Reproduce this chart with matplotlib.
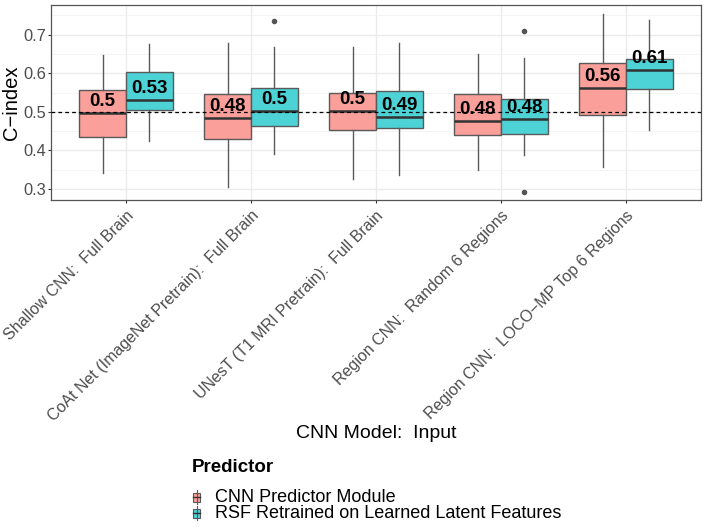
import numpy as np
import matplotlib.pyplot as plt
from matplotlib.patches import Rectangle
from matplotlib.lines import Line2D
from matplotlib.colors import to_rgb
from matplotlib.ticker import MultipleLocator

plt.rcParams['font.family'] = ['Liberation Sans', 'DejaVu Sans']

models = ["Shallow CNN:  Full Brain",
          "CoAt Net (ImageNet Pretrain):  Full Brain",
          "UNesT (T1 MRI Pretrain):  Full Brain",
          "Region CNN:  Random 6 Regions",
          "Region CNN:  LOCO\u2212MP Top 6 Regions"]
predictors = ["CNN Predictor Module", "RSF Retrained on Learned Latent Features"]
colors = ['#F8766D', '#00BFC4']

# box statistics, one list per predictor
cnn_whislo = [0.342, 0.305, 0.326, 0.349, 0.356]
cnn_q1 = [0.435, 0.430, 0.454, 0.439, 0.491]
cnn_med = [0.497, 0.484, 0.503, 0.477, 0.562]
cnn_q3 = [0.556, 0.547, 0.549, 0.547, 0.626]
cnn_whishi = [0.647, 0.678, 0.668, 0.649, 0.755]
cnn_fliers = [[], [], [], [], []]

rsf_whislo = [0.425, 0.390, 0.336, 0.389, 0.454]
rsf_q1 = [0.504, 0.462, 0.458, 0.443, 0.559]
rsf_med = [0.531, 0.503, 0.486, 0.482, 0.609]
rsf_q3 = [0.602, 0.562, 0.554, 0.533, 0.637]
rsf_whishi = [0.675, 0.669, 0.679, 0.639, 0.739]
rsf_fliers = [[], [0.736], [], [0.710, 0.293], []]

series = [
    (cnn_whislo, cnn_q1, cnn_med, cnn_q3, cnn_whishi, cnn_fliers),
    (rsf_whislo, rsf_q1, rsf_med, rsf_q3, rsf_whishi, rsf_fliers),
]

def light(c):
    # fill with alpha 0.7 over white
    return tuple(np.array(to_rgb(c)) * 0.7 + 0.3)

W, H = 706, 530
fig = plt.figure(figsize=(W/100, H/100), dpi=100)
ax = fig.add_axes([51/W, 1-200/H, 650/W, 195.3/H])

x = np.arange(1, len(models) + 1)
w = 0.375
for k, (lo, q1, med, q3, hi, fl) in enumerate(series):
    stats = [dict(whislo=lo[i], q1=q1[i], med=med[i], q3=q3[i], whishi=hi[i],
                  fliers=fl[i]) for i in range(len(models))]
    pos = x + (k - 0.5) * w
    bp = ax.bxp(stats, positions=pos, widths=w, patch_artist=True, showcaps=False,
                boxprops=dict(facecolor=light(colors[k]), edgecolor='#5a5a5a', lw=1.0),
                whiskerprops=dict(color='#5a5a5a', lw=1.0),
                medianprops=dict(color='#333333', lw=1.8),
                flierprops=dict(marker='o', markersize=3, markerfacecolor='#555555',
                                markeredgecolor='#555555'), zorder=3)
    for i in range(len(models)):
        ax.text(pos[i], med[i] + 0.018, f"{round(med[i], 2):g}", ha='center',
                va='baseline', fontsize=13.5, fontweight='bold', color='black', zorder=5)

ax.axhline(0.5, color='black', ls=(0, (3, 2.5)), lw=0.9, zorder=4)

ax.set_xlim(0.4, 5.6)
ax.set_ylim(0.271, 0.778)
ax.yaxis.set_major_locator(MultipleLocator(0.1))
ax.yaxis.set_minor_locator(MultipleLocator(0.05))
ax.set_xticks(x)
ax.set_xticklabels(models, rotation=45, ha='right', rotation_mode='anchor',
                   fontsize=11.5, color='#4D4D4D')
ax.tick_params(axis='y', labelsize=11.75, labelcolor='#4D4D4D', pad=1.5)
ax.tick_params(axis='both', which='major', length=2.2, color='#333333', width=0.8)
ax.tick_params(axis='y', which='minor', length=0)
ax.grid(which='major', color='#EBEBEB', lw=1.0, zorder=0)
ax.grid(which='minor', axis='y', color='#F2F2F2', lw=0.6, zorder=0)
ax.set_axisbelow(True)
for s in ax.spines.values():
    s.set_color('#555555')
    s.set_linewidth(0.9)

ax.set_ylabel("C\u2212index", fontsize=14.5, va='center')
ax.yaxis.set_label_coords((12 - 51) / 650, 0.5)
fig.text(376/W, 1-434/H, "CNN Model:  Input", ha='center', va='center',
         fontsize=14)

# legend built by hand (ggplot-style keys)
fig.text(192/W, 1-468/H, "Predictor", ha='left', va='center', fontsize=13.5,
         fontweight='bold')
for k, (lab, c) in enumerate(zip(predictors, colors)):
    yc = 497 + 16 * k
    fig.add_artist(Line2D([196.5/W, 196.5/W], [1-(yc-7)/H, 1-(yc+7)/H],
                          color='#5a5a5a', lw=0.8))
    fig.add_artist(Rectangle((193/W, 1-(yc+4.5)/H), 7/W, 9/H, facecolor=light(c),
                             edgecolor='#5a5a5a', lw=0.8))
    fig.add_artist(Line2D([193/W, 200/W], [1-yc/H, 1-yc/H], color='#333333', lw=1.0))
    fig.text(215/W, 1-yc/H, lab, ha='left', va='center', fontsize=13)

fig.savefig('out.png', dpi=100)
